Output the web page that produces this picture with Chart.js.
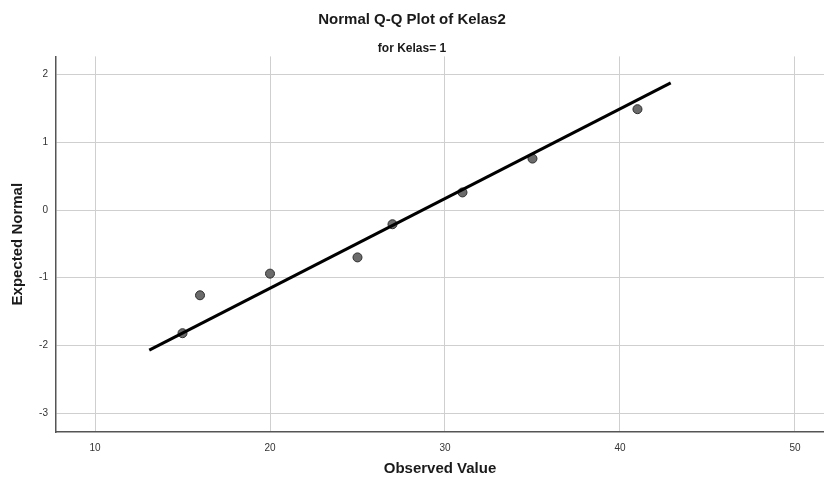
<!DOCTYPE html>
<html>
<head>
<meta charset="utf-8">
<script src="https://cdn.jsdelivr.net/npm/chart.js"></script>
<style>
  html, body { margin: 0; padding: 0; background: #fff; }
  #wrap { width: 824px; height: 481px; }
</style>
</head>
<body>
<div id="wrap"><canvas id="qq" width="824" height="481"></canvas></div>
<script>
// observed values and their expected normal scores
const observed = [15, 16, 20, 25, 27, 31, 35, 41];
const expected = [-1.82, -1.26, -0.94, -0.70, -0.21, 0.26, 0.76, 1.49];

// reference line end points
const lineX = [13.1, 42.9];
const lineY = [-2.07, 1.88];

const xTicks = [10, 20, 30, 40, 50];
const yTicks = [-3, -2, -1, 0, 1, 2];

const FONT = '"Liberation Sans Narrow", "Liberation Sans", Arial, sans-serif';

const ctx = document.getElementById('qq').getContext('2d');
const qqChart = new Chart(ctx, {
    type: 'scatter',
    data: {
        datasets: [
            {
                label: 'Observed',
                data: observed.map((x, i) => ({ x: x, y: expected[i] })),
                backgroundColor: '#6b6b6b',
                borderColor: '#2e2e2e',
                borderWidth: 1,
                pointRadius: 4.5,
                order: 2
            },
            {
                type: 'line',
                label: 'Line',
                data: lineX.map((x, i) => ({ x: x, y: lineY[i] })),
                borderColor: '#000',
                borderWidth: 3,
                pointRadius: 0,
                fill: false,
                order: 1
            }
        ]
    },
    options: {
        responsive: false,
        animation: false,
        layout: { padding: 0, autoPadding: false },
        plugins: {
            legend: { display: false },
            tooltip: { enabled: false },
            title: {
                display: true,
                text: 'Normal Q-Q Plot of Kelas2',
                color: '#1a1a1a',
                font: { family: FONT, size: 15, weight: 'bold' },
                padding: { top: 11, bottom: 12 }
            },
            subtitle: {
                display: true,
                text: 'for Kelas= 1',
                color: '#1a1a1a',
                font: { family: FONT, size: 12, weight: 'bold' },
                padding: { top: 0, bottom: 1 }
            }
        },
        scales: {
            x: {
                type: 'linear',
                min: 7.77,
                max: 51.66,
                afterFit: (scale) => {
                    scale.height = 49;
                    scale.paddingLeft = 0;
                    scale.paddingRight = 0;
                },
                afterBuildTicks: (scale) => { scale.ticks = xTicks.map(v => ({ value: v })); },
                grid: { color: '#cfcfcf', lineWidth: 1, drawTicks: false },
                border: { color: '#555', width: 1.5 },
                ticks: {
                    padding: 10,
                    color: '#333',
                    font: { family: FONT, size: 10 }
                },
                title: {
                    display: true,
                    text: 'Observed Value',
                    color: '#1a1a1a',
                    font: { family: FONT, size: 15, weight: 'bold' },
                    padding: { top: 0, bottom: 3 }
                }
            },
            y: {
                type: 'linear',
                min: -3.28,
                max: 2.27,
                afterFit: (scale) => {
                    scale.width = 56;
                    scale.paddingTop = 0;
                    scale.paddingBottom = 0;
                },
                afterBuildTicks: (scale) => { scale.ticks = yTicks.map(v => ({ value: v })); },
                grid: { color: '#cfcfcf', lineWidth: 1, drawTicks: false },
                border: { color: '#555', width: 1.5 },
                ticks: {
                    padding: 8,
                    color: '#333',
                    font: { family: FONT, size: 10 }
                },
                title: {
                    display: true,
                    text: 'Expected Normal',
                    color: '#1a1a1a',
                    font: { family: FONT, size: 15, weight: 'bold' },
                    padding: { top: 9, bottom: 0 }
                }
            }
        }
    }
});
</script>
</body>
</html>
